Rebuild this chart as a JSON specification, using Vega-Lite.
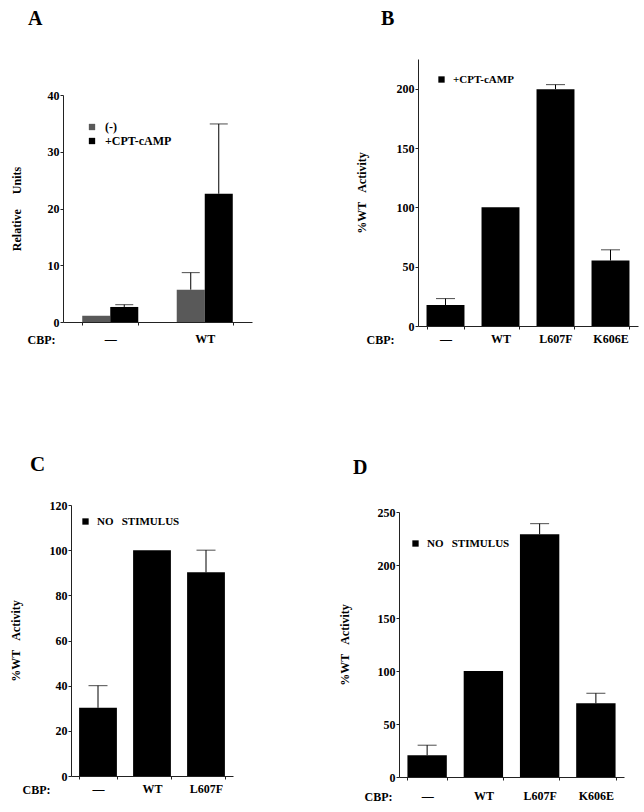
{
  "$schema": "https://vega.github.io/schema/vega-lite/v6.json",
  "background": "white",
  "padding": {"left": 9, "top": 9, "right": 5, "bottom": 5},
  "columns": 2,
  "spacing": {"column": 86, "row": 109},
  "resolve": {"scale": {"color": "independent"}, "legend": {"color": "independent"}},
  "config": {
    "view": {"stroke": null},
    "font": "Liberation Serif",
    "axis": {
      "labelFont": "Liberation Serif", "labelFontWeight": "bold", "labelFontSize": 12, "labelColor": "#000",
      "titleFont": "Liberation Serif", "titleFontWeight": "bold", "titleFontSize": 12, "titleColor": "#000",
      "domainColor": "#222", "tickColor": "#222", "tickSize": 3, "grid": false
    },
    "axisY": {"labelPadding": 1, "titleBaseline": "middle", "titleAngle": -90},
    "axisX": {"labelAngle": 0, "tickBand": "extent", "titleAlign": "left", "titleBaseline": "middle"},
    "legend": {
      "title": null, "orient": "none", "padding": 0, "symbolType": "square", "symbolSize": 40,
      "symbolStrokeWidth": 0, "labelFont": "Liberation Serif", "labelFontWeight": "bold",
      "labelFontSize": 11, "labelColor": "#000", "labelOffset": 6, "rowPadding": 2
    },
    "title": {"anchor": "start", "frame": "group", "font": "Liberation Serif", "fontWeight": "bold", "fontSize": 20, "color": "#000"}
  },
  "concat": [
    {
      "width": 189, "height": 263,
      "title": {"text": "A", "dx": -35, "offset": 30},
      "data": {"values": [
        {"cbp": "—", "cond": "(-)", "value": 1.1, "err": null},
        {"cbp": "—", "cond": "+CPT-cAMP", "value": 2.65, "err": 3.05},
        {"cbp": "WT", "cond": "(-)", "value": 5.7, "err": 8.7},
        {"cbp": "WT", "cond": "+CPT-cAMP", "value": 22.6, "err": 34.9}
      ]},
      "encoding": {
        "x": {"field": "cbp", "type": "nominal", "sort": ["—", "WT"],
          "scale": {"paddingInner": 0.407, "paddingOuter": 0.2035},
          "axis": {"title": "CBP:", "titleX": -36, "titleY": 17, "labelPadding": 8}},
        "xOffset": {"field": "cond", "type": "nominal", "sort": ["(-)", "+CPT-cAMP"]}
      },
      "layer": [
        {
          "mark": {"type": "bar"},
          "encoding": {
            "y": {"field": "value", "type": "quantitative",
              "scale": {"domain": [0, 40], "range": [263, 36], "nice": false},
              "axis": {"title": "Relative\u00a0\u00a0\u00a0\u00a0\u00a0Units", "titleX": -47,
                "values": [0, 2.5, 5, 7.5, 10, 12.5, 15, 17.5, 20, 22.5, 25, 27.5, 30, 32.5, 35, 37.5, 40],
                "labelExpr": "datum.value % 10 === 0 ? format(datum.value, 'd') : ''"}},
            "color": {"field": "cond", "type": "nominal",
              "scale": {"domain": ["(-)", "+CPT-cAMP"], "range": ["#595959", "#000000"]},
              "legend": {"legendX": 23, "legendY": 62, "labelFontSize": 12, "labelOffset": 7}}
          }
        },
        {
          "transform": [{"filter": "datum.err != null"}],
          "mark": {"type": "rule", "color": "#000", "strokeWidth": 1},
          "encoding": {"y": {"field": "value", "type": "quantitative"}, "y2": {"field": "err"}}
        },
        {
          "transform": [{"filter": "datum.err != null"}],
          "mark": {"type": "tick", "color": "#000", "thickness": 1, "size": 18},
          "encoding": {"y": {"field": "err", "type": "quantitative"}}
        }
      ]
    },
    {
      "width": 239, "height": 267,
      "title": {"text": "B", "dx": -18, "offset": 30},
      "data": {"values": [
        {"cbp": "—", "cond": "+CPT-cAMP", "value": 17.7, "err": 23.1},
        {"cbp": "WT", "cond": "+CPT-cAMP", "value": 100, "err": null},
        {"cbp": "L607F", "cond": "+CPT-cAMP", "value": 199.6, "err": 203.4},
        {"cbp": "K606E", "cond": "+CPT-cAMP", "value": 55.2, "err": 64.2}
      ]},
      "encoding": {
        "x": {"field": "cbp", "type": "nominal", "sort": ["—", "WT", "L607F", "K606E"],
          "scale": {"range": [19, 239], "paddingInner": 0.31, "paddingOuter": 0.155},
          "axis": {"title": "CBP:", "titleX": -33, "titleY": 13, "labelPadding": 4}}
      },
      "layer": [
        {
          "mark": {"type": "bar"},
          "encoding": {
            "y": {"field": "value", "type": "quantitative",
              "scale": {"domain": [0, 225], "nice": false},
              "axis": {"title": "%WT\u00a0\u00a0\u00a0Activity", "titleX": -57, "offset": -19,
                "values": [0, 12.5, 25, 37.5, 50, 62.5, 75, 87.5, 100, 112.5, 125, 137.5, 150, 162.5, 175, 187.5, 200, 212.5, 225],
                "labelExpr": "datum.value % 50 === 0 ? format(datum.value, 'd') : ''"}},
            "color": {"field": "cond", "type": "nominal",
              "scale": {"domain": ["+CPT-cAMP"], "range": ["#000000"]},
              "legend": {"legendX": 37, "legendY": 15}}
          }
        },
        {
          "transform": [{"filter": "datum.err != null"}],
          "mark": {"type": "rule", "color": "#000", "strokeWidth": 1},
          "encoding": {"y": {"field": "value", "type": "quantitative"}, "y2": {"field": "err"}}
        },
        {
          "transform": [{"filter": "datum.err != null"}],
          "mark": {"type": "tick", "color": "#000", "thickness": 1, "size": 19},
          "encoding": {"y": {"field": "err", "type": "quantitative"}}
        }
      ]
    },
    {
      "width": 170, "height": 271,
      "title": {"text": "C", "dx": -33, "offset": 24, "fontSize": 21},
      "data": {"values": [
        {"cbp": "—", "cond": "NO\u00a0\u00a0\u00a0STIMULUS", "value": 30.2, "err": 40},
        {"cbp": "WT", "cond": "NO\u00a0\u00a0\u00a0STIMULUS", "value": 100, "err": null},
        {"cbp": "L607F", "cond": "NO\u00a0\u00a0\u00a0STIMULUS", "value": 90.2, "err": 100}
      ]},
      "encoding": {
        "x": {"field": "cbp", "type": "nominal", "sort": ["—", "WT", "L607F"],
          "scale": {"range": [8, 170], "paddingInner": 0.3, "paddingOuter": 0.15},
          "axis": {"title": "CBP:", "titleX": -41, "titleY": 13, "labelPadding": 4}}
      },
      "layer": [
        {
          "mark": {"type": "bar"},
          "encoding": {
            "y": {"field": "value", "type": "quantitative",
              "scale": {"domain": [0, 120], "nice": false},
              "axis": {"title": "%WT\u00a0\u00a0\u00a0Activity", "titleX": -56, "offset": -8,
                "values": [0, 10, 20, 30, 40, 50, 60, 70, 80, 90, 100, 110, 120],
                "labelExpr": "datum.value % 20 === 0 ? format(datum.value, 'd') : ''"}},
            "color": {"field": "cond", "type": "nominal",
              "scale": {"domain": ["NO\u00a0\u00a0\u00a0STIMULUS"], "range": ["#000000"]},
              "legend": {"legendX": 17, "legendY": 11}}
          }
        },
        {
          "transform": [{"filter": "datum.err != null"}],
          "mark": {"type": "rule", "color": "#000", "strokeWidth": 1},
          "encoding": {"y": {"field": "value", "type": "quantitative"}, "y2": {"field": "err"}}
        },
        {
          "transform": [{"filter": "datum.err != null"}],
          "mark": {"type": "tick", "color": "#000", "thickness": 1, "size": 19},
          "encoding": {"y": {"field": "err", "type": "quantitative"}}
        }
      ]
    },
    {
      "width": 225, "height": 272,
      "title": {"text": "D", "dx": -46, "offset": 27},
      "data": {"values": [
        {"cbp": "—", "cond": "NO\u00a0\u00a0\u00a0STIMULUS", "value": 20.5, "err": 30},
        {"cbp": "WT", "cond": "NO\u00a0\u00a0\u00a0STIMULUS", "value": 100, "err": null},
        {"cbp": "L607F", "cond": "NO\u00a0\u00a0\u00a0STIMULUS", "value": 229, "err": 239},
        {"cbp": "K606E", "cond": "NO\u00a0\u00a0\u00a0STIMULUS", "value": 69.5, "err": 79}
      ]},
      "encoding": {
        "x": {"field": "cbp", "type": "nominal", "sort": ["—", "WT", "L607F", "K606E"],
          "scale": {"paddingInner": 0.3, "paddingOuter": 0.15},
          "axis": {"title": "CBP:", "titleX": -35, "titleY": 19, "labelPadding": 10}}
      },
      "layer": [
        {
          "mark": {"type": "bar"},
          "encoding": {
            "y": {"field": "value", "type": "quantitative",
              "scale": {"domain": [0, 250], "range": [272, 7], "nice": false},
              "axis": {"title": "%WT\u00a0\u00a0\u00a0Activity", "titleX": -55,
                "values": [0, 12.5, 25, 37.5, 50, 62.5, 75, 87.5, 100, 112.5, 125, 137.5, 150, 162.5, 175, 187.5, 200, 212.5, 225, 237.5, 250],
                "labelExpr": "datum.value % 50 === 0 ? format(datum.value, 'd') : ''"}},
            "color": {"field": "cond", "type": "nominal",
              "scale": {"domain": ["NO\u00a0\u00a0\u00a0STIMULUS"], "range": ["#000000"]},
              "legend": {"legendX": 11, "legendY": 33}}
          }
        },
        {
          "transform": [{"filter": "datum.err != null"}],
          "mark": {"type": "rule", "color": "#000", "strokeWidth": 1},
          "encoding": {"y": {"field": "value", "type": "quantitative"}, "y2": {"field": "err"}}
        },
        {
          "transform": [{"filter": "datum.err != null"}],
          "mark": {"type": "tick", "color": "#000", "thickness": 1, "size": 19},
          "encoding": {"y": {"field": "err", "type": "quantitative"}}
        }
      ]
    }
  ]
}
